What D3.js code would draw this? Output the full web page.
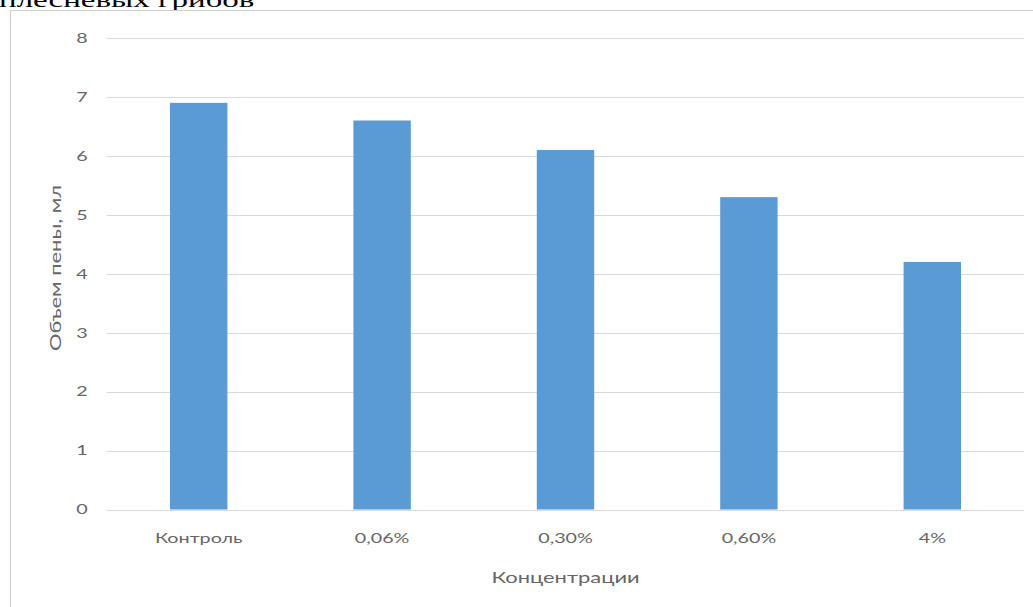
<!DOCTYPE html>
<html>
<head>
<meta charset="utf-8">
<script src="https://cdn.jsdelivr.net/npm/d3@7"></script>
<style>
  html, body { margin: 0; padding: 0; background: #fff; overflow: hidden; }
  svg { display: block; }
</style>
</head>
<body>
<svg id="chart" width="1033" height="607"></svg>
<script>
// Foam volume by concentration
const categories = ["Контроль", "0,06%", "0,30%", "0,60%", "4%"];
const foamVolume = [6.9, 6.6, 6.1, 5.3, 4.2];
const yTicks = [0, 1, 2, 3, 4, 5, 6, 7, 8];

const svg = d3.select("#chart");
const W = 1033, H = 607;
const textColor = "#666666";
const font = "Lato, 'Open Sans', sans-serif";
const WIDE = 1.46; // the labels are set in a wide face; widen glyphs to match

// Widen text along its own baseline direction
function widen(sel, k) {
  sel.each(function () {
    const w = this.getComputedTextLength();
    d3.select(this)
      .attr("textLength", w * k)
      .attr("lengthAdjust", "spacingAndGlyphs");
  });
  return sel;
}

// Caption line from the surrounding text
svg.append("text")
  .attr("x", -1).attr("y", 7)
  .attr("font-family", "'Liberation Serif', 'DejaVu Serif', serif")
  .attr("font-size", 21)
  .attr("fill", "#000")
  .text("плесневых грибов")
  .call(widen, 1.57);

// Chart frame
svg.append("rect")
  .attr("x", 10.5).attr("y", 10.5)
  .attr("width", W).attr("height", H)
  .attr("fill", "#fff")
  .attr("stroke", "#cfcfcf");

const plot = { left: 107, right: 1024, top: 38, bottom: 509.5 };

const x = d3.scaleBand()
  .domain(categories)
  .range([plot.left, plot.right])
  .paddingInner(0.687)
  .paddingOuter(0.3435);

const y = d3.scaleLinear()
  .domain([0, 8])
  .range([plot.bottom, plot.top]);

// Horizontal gridlines
svg.append("g")
  .selectAll("line")
  .data(yTicks)
  .join("line")
  .attr("x1", plot.left).attr("x2", plot.right)
  .attr("y1", d => Math.round(y(d)) + 0.5)
  .attr("y2", d => Math.round(y(d)) + 0.5)
  .attr("stroke", "#d9d9d9")
  .attr("stroke-width", 1.2);

// Bars
svg.append("g")
  .selectAll("rect")
  .data(foamVolume)
  .join("rect")
  .attr("x", (d, i) => x(categories[i]))
  .attr("width", x.bandwidth())
  .attr("y", d => y(d))
  .attr("height", d => y(0) - y(d))
  .attr("fill", "#5b9bd5");

// Y axis (labels centred in their column)
const yAxis = svg.append("g")
  .attr("transform", "translate(82,0)")
  .call(d3.axisLeft(y).tickValues(yTicks).tickSize(0).tickPadding(0));
yAxis.select(".domain").remove();
yAxis.selectAll("text")
  .attr("x", 0)
  .attr("text-anchor", "middle")
  .attr("font-family", font)
  .attr("font-size", 13.5)
  .attr("fill", textColor)
  .call(widen, WIDE);

// X axis
const xAxis = svg.append("g")
  .attr("transform", `translate(0,${plot.bottom})`)
  .call(d3.axisBottom(x).tickSize(0).tickPadding(24));
xAxis.select(".domain").remove();
xAxis.selectAll("text")
  .attr("font-family", font)
  .attr("font-size", 13.5)
  .attr("fill", textColor)
  .call(widen, WIDE);

// Axis titles
svg.append("text")
  .attr("x", (plot.left + plot.right) / 2)
  .attr("y", 583)
  .attr("text-anchor", "middle")
  .attr("font-family", font)
  .attr("font-size", 15)
  .attr("fill", textColor)
  .text("Концентрации")
  .call(widen, WIDE);

svg.append("text")
  .attr("transform", "translate(61,268) rotate(-90)")
  .attr("text-anchor", "middle")
  .attr("font-family", font)
  .attr("font-size", 15)
  .attr("fill", textColor)
  .text("Объем пены, мл")
  .call(widen, WIDE);
</script>
</body>
</html>
